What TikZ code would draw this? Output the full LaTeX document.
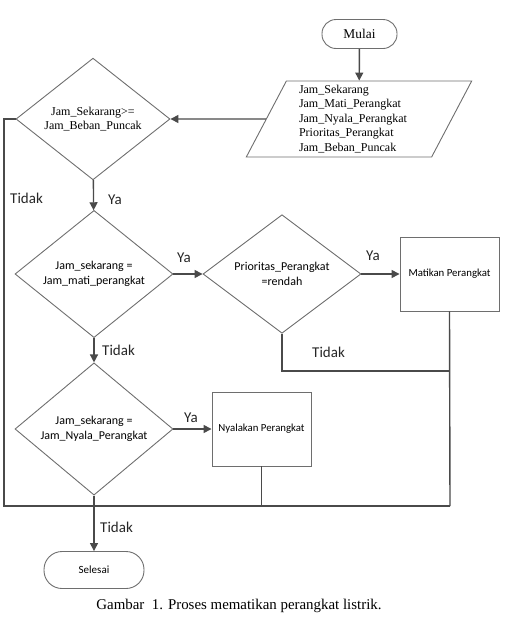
\documentclass[tikz,border=0pt]{standalone}
\usepackage{fontspec}
\setmainfont{Liberation Serif}
\newfontfamily\calfont{Carlito}
\usetikzlibrary{shapes.geometric,arrows.meta}
\definecolor{lineg}{HTML}{4A4A4A}
\definecolor{shapeg}{HTML}{6E6E6E}
\tikzset{
  shp/.style={draw=shapeg, line width=0.9pt, inner sep=0pt, align=center},
  dec/.style={shp, diamond, minimum width=158pt, minimum height=118pt},
  proc/.style={shp, rectangle, minimum width=99pt, minimum height=74pt},
  term/.style={shp, rectangle},
  conn/.style={draw=lineg, line width=1.4pt},
  arr/.style={conn, -{Triangle[length=8pt,width=8pt]}},
  lbl/.style={font=\calfont\fontsize{15}{18}\selectfont, inner sep=0pt, anchor=base west, text=black!85},
  sersm/.style={font=\rmfamily\fontsize{12}{14.5}\selectfont},
  calsm/.style={font=\calfont\fontsize{12}{15}\selectfont},
}
\begin{document}
\begin{tikzpicture}[x=1pt,y=-1pt]
\useasboundingbox (0,0) rectangle (507,627);
% nodes
\node[term, rounded corners=14pt, minimum width=75pt, minimum height=29pt, font=\rmfamily\fontsize{13.4}{15}\selectfont] (mulai) at (359.5,34) {Mulai};
\node[shp, trapezium, trapezium left angle=64, trapezium right angle=116, trapezium stretches=true, minimum width=226pt, minimum height=76pt, text width=120pt, align=left, sersm] (inp) at (359,119) {Jam\_Sekarang\\Jam\_Mati\_Perangkat\\Jam\_Nyala\_Perangkat\\Prioritas\_Perangkat\\Jam\_Beban\_Puncak};
\node[dec, minimum width=154pt, minimum height=114pt, sersm] (d1) at (93,119) {Jam\_Sekarang>=\\Jam\_Beban\_Puncak};
\node[dec, calsm] (d2) at (94,274) {Jam\_sekarang =\\Jam\_mati\_perangkat};
\node[dec, calsm] (d3) at (282,274) {Prioritas\_Perangkat\\=rendah};
\node[proc, font=\calfont\fontsize{10.8}{13}\selectfont] (r1) at (449.5,274) {Matikan Perangkat};
\node[dec, calsm] (d4) at (94,429) {Jam\_sekarang =\\Jam\_Nyala\_Perangkat};
\node[proc, font=\calfont\fontsize{10.8}{13}\selectfont] (r2) at (261.5,429) {Nyalakan Perangkat};
\node[term, rounded corners=18pt, minimum width=100pt, minimum height=37pt, font=\calfont\fontsize{11}{13}\selectfont] (sel) at (94,570) {Selesai};
\node[inner sep=0pt, anchor=base, font=\rmfamily\fontsize{14.9}{17}\selectfont] (cap) at (239,609) {Gambar\ \ 1. Proses mematikan perangkat listrik.};
% junction coordinates
\coordinate (lc) at (4,506);
\coordinate (jr) at (450,506);
\coordinate (m3) at (450,371);
% connectors
\draw[arr] (mulai) -- (inp);
\draw[arr] (inp.west) -- (d1.east);
\draw[arr] (d1) -- (d2);
\draw[conn] (d1.west) -| (lc) -- (jr);
\draw[arr] (d2.east) -- (d3.west);
\draw[arr] (d3.east) -- (r1.west);
\draw[conn] (d3.south) |- (m3);
\draw[conn] (r1.south) -- (jr);
\draw[arr] (d2) -- (d4);
\draw[arr] (d4.east) -- (r2.west);
\draw[conn] (r2.south) -- (r2.south |- jr);
\draw[arr] (d4) -- (sel);
% labels
\node[lbl] (l1) at (10,203) {Tidak};
\node[lbl] (l2) at (108,204) {Ya};
\node[lbl] (l3) at (177,262) {Ya};
\node[lbl] (l4) at (366,260) {Ya};
\node[lbl] (l5) at (102,355) {Tidak};
\node[lbl] (l6) at (312,357) {Tidak};
\node[lbl] (l7) at (184,422) {Ya};
\node[lbl] (l8) at (100,532) {Tidak};
\end{tikzpicture}
\end{document}
